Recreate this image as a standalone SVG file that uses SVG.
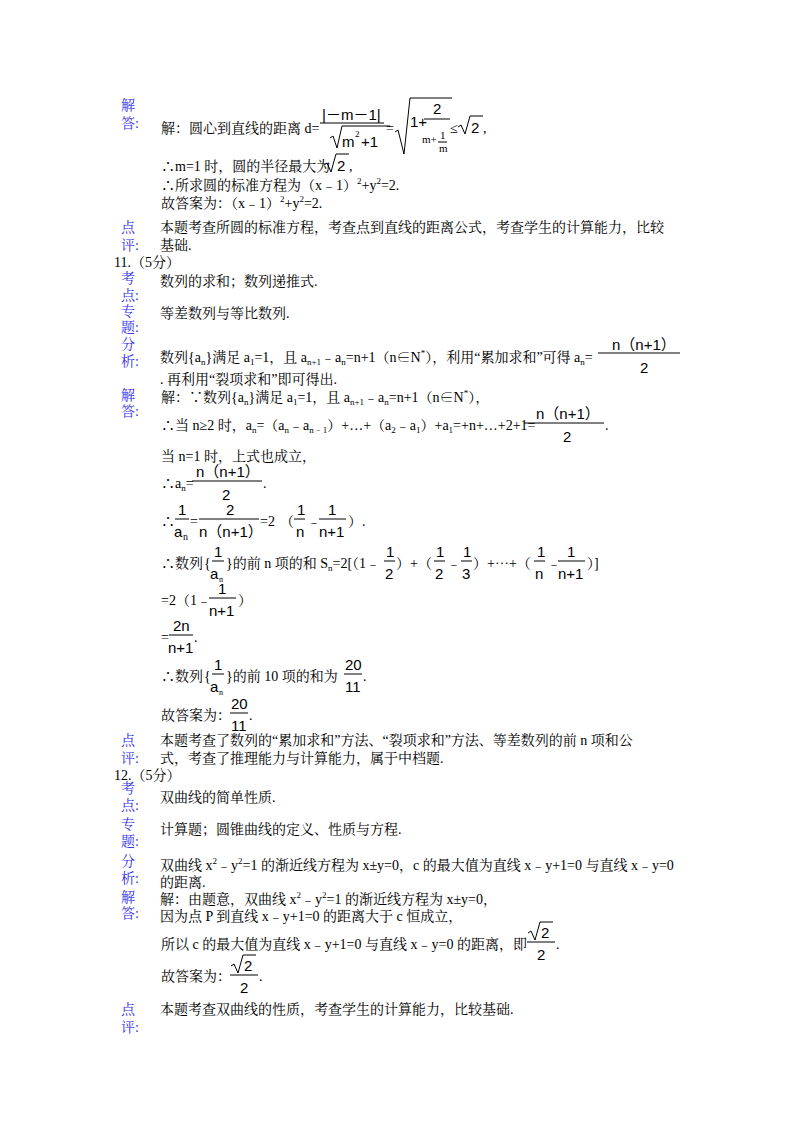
<svg xmlns="http://www.w3.org/2000/svg" width="800" height="1132" viewBox="0 0 800 1132">
<style>
text{font-family:"Liberation Serif","Noto Serif CJK SC","Noto Sans CJK SC",serif;font-size:14px;fill:#000}
.l{fill:#3333ee}
.s{font-size:9px}
.f{font-family:"Liberation Sans","Noto Sans CJK SC",sans-serif;font-size:15px}
line,path{stroke:#000;stroke-width:1;fill:none}
</style>
<rect width="800" height="1132" fill="#fff"/>
<g id="labels">
<text class="l" x="121" y="110">解</text><text class="l" x="121" y="128">答:</text>
<text class="l" x="121" y="232">点</text><text class="l" x="121" y="250">评:</text>
<text class="l" x="121" y="283">考</text><text class="l" x="121" y="300">点:</text>
<text class="l" x="121" y="316">专</text><text class="l" x="121" y="332">题:</text>
<text class="l" x="121" y="349">分</text><text class="l" x="121" y="366">析:</text>
<text class="l" x="121" y="400">解</text><text class="l" x="121" y="416">答:</text>
<text class="l" x="121" y="745">点</text><text class="l" x="121" y="763">评:</text>
<text class="l" x="121" y="793">考</text><text class="l" x="121" y="810">点:</text>
<text class="l" x="121" y="829">专</text><text class="l" x="121" y="846">题:</text>
<text class="l" x="121" y="866">分</text><text class="l" x="121" y="883">析:</text>
<text class="l" x="121" y="902">解</text><text class="l" x="121" y="918">答:</text>
<text class="l" x="121" y="1014">点</text><text class="l" x="121" y="1032">评:</text>
</g>
<g id="q10">
<text x="161" y="133">解：圆心到直线的距离 d=</text>
<text class="f" x="322" y="120">|－m－1|</text>
<line x1="320" y1="123" x2="384" y2="123"/>
<path d="M330,138 l3,-2 4,12 5,-22 h48"/>
<text class="f" x="342" y="147">m</text><text class="s" x="355" y="137">2</text><text class="f" x="361" y="147">+1</text>
<text x="386" y="133">=</text>
<path d="M395,132 l3,-2 6,24 6,-56 h42"/>
<text class="f" x="410" y="127">1+</text>
<text class="f" x="433" y="114">2</text>
<line x1="424" y1="119" x2="450" y2="119"/>
<text x="422" y="143" style="font-size:11px">m+</text><text x="440" y="139" style="font-size:11px">1</text>
<line x1="438" y1="142" x2="447" y2="142"/><text x="439" y="152" style="font-size:11px">m</text>
<text x="450" y="133">≤</text>
<path d="M458,127 l3,-2 4,9 5,-18 h13"/><text class="f" x="471" y="133">2</text><text x="483" y="133">,</text>
<text x="161" y="171">∴m=1 时，圆的半径最大为</text>
<path d="M324,165 l3,-2 4,9 5,-18 h13"/><text class="f" x="337" y="171">2</text><text x="349" y="171">,</text>
<text x="161" y="190">∴所求圆的标准方程为（x﹣1）<tspan class="s" dy="-6">2</tspan><tspan dy="6">+y</tspan><tspan class="s" dy="-6">2</tspan><tspan dy="6">=2.</tspan></text>
<text x="161" y="208">故答案为：（x﹣1）<tspan class="s" dy="-6">2</tspan><tspan dy="6">+y</tspan><tspan class="s" dy="-6">2</tspan><tspan dy="6">=2.</tspan></text>
<text x="160" y="232">本题考查所圆的标准方程，考查点到直线的距离公式，考查学生的计算能力，比较</text>
<text x="160" y="250">基础.</text>
</g>
<g id="q11">
<text x="114" y="267">11.（5分）</text>
<text x="160" y="286">数列的求和；数列递推式.</text>
<text x="160" y="318">等差数列与等比数列.</text>
<text x="160" y="362">数列{a<tspan class="s" dy="3">n</tspan><tspan dy="-3">}满足 a</tspan><tspan class="s" dy="3">1</tspan><tspan dy="-3">=1，且 a</tspan><tspan class="s" dy="3">n+1</tspan><tspan dy="-3">﹣a</tspan><tspan class="s" dy="3">n</tspan><tspan dy="-3">=n+1（n∈N</tspan><tspan class="s" dy="-6">*</tspan><tspan dy="6">），利用“累加求和”可得 a</tspan><tspan class="s" dy="3">n</tspan><tspan dy="-3">=</tspan></text>
<text class="f" x="612" y="350">n（n+1）</text><line x1="598" y1="353" x2="680" y2="353"/><text class="f" x="640" y="373">2</text>
<text x="160" y="384">. 再利用“裂项求和”即可得出.</text>
<text x="161" y="402">解：∵数列{a<tspan class="s" dy="3">n</tspan><tspan dy="-3">}满足 a</tspan><tspan class="s" dy="3">1</tspan><tspan dy="-3">=1，且 a</tspan><tspan class="s" dy="3">n+1</tspan><tspan dy="-3">﹣a</tspan><tspan class="s" dy="3">n</tspan><tspan dy="-3">=n+1（n∈N</tspan><tspan class="s" dy="-6">*</tspan><tspan dy="6">），</tspan></text>
<text x="161" y="430">∴当 n≥2 时，a<tspan class="s" dy="3">n</tspan><tspan dy="-3">=（a</tspan><tspan class="s" dy="3">n</tspan><tspan dy="-3">﹣a</tspan><tspan class="s" dy="3">n﹣1</tspan><tspan dy="-3">）+…+（a</tspan><tspan class="s" dy="3">2</tspan><tspan dy="-3">﹣a</tspan><tspan class="s" dy="3">1</tspan><tspan dy="-3">）+a</tspan><tspan class="s" dy="3">1</tspan><tspan dy="-3">=+n+…+2+1=</tspan></text>
<text class="f" x="536" y="419">n（n+1）</text><line x1="524" y1="423" x2="604" y2="423"/><text class="f" x="563" y="442">2</text><text x="605" y="430">.</text>
<text x="161" y="461">当 n=1 时，上式也成立，</text>
<text x="161" y="488">∴a<tspan class="s" dy="3">n</tspan><tspan dy="-3">=</tspan></text>
<text class="f" x="196" y="477">n（n+1）</text><line x1="192" y1="481" x2="262" y2="481"/><text class="f" x="222" y="500">2</text><text x="263" y="488">.</text>
<text x="161" y="526">∴</text>
<text class="f" x="178" y="515">1</text><line x1="175" y1="519" x2="189" y2="519"/><text class="f" x="174" y="537">a</text><text x="183" y="540" style="font-size:10px">n</text>
<text x="190" y="526">=</text>
<text class="f" x="226" y="515">2</text><line x1="199" y1="519" x2="259" y2="519"/><text class="f" x="199" y="537">n（n+1）</text>
<text x="260" y="526">=2</text>
<text x="280" y="526">（</text>
<text class="f" x="297" y="515">1</text><line x1="294" y1="519" x2="305" y2="519"/><text class="f" x="296" y="537">n</text>
<text x="307" y="526">﹣</text>
<text class="f" x="328" y="515">1</text><line x1="319" y1="519" x2="346" y2="519"/><text class="f" x="319" y="537">n+1</text>
<text x="348" y="526">）.</text>
<text x="161" y="568">∴数列</text><text x="204" y="568">{</text>
<text class="f" x="214" y="557">1</text><line x1="212" y1="561" x2="224" y2="561"/><text class="f" x="210" y="579">a</text><text x="219" y="582" style="font-size:8px">n</text>
<text x="226" y="568">}的前 n 项的和 S<tspan class="s" dy="3">n</tspan><tspan dy="-3">=2[（1﹣</tspan></text>
<text class="f" x="386" y="557">1</text><line x1="384" y1="561" x2="395" y2="561"/><text class="f" x="385" y="579">2</text>
<text x="396" y="568">）+（</text>
<text class="f" x="436" y="557">1</text><line x1="434" y1="561" x2="445" y2="561"/><text class="f" x="435" y="579">2</text>
<text x="447" y="568">﹣</text>
<text class="f" x="463" y="557">1</text><line x1="461" y1="561" x2="472" y2="561"/><text class="f" x="462" y="579">3</text>
<text x="473" y="568">）+⋯+（</text>
<text class="f" x="537" y="557">1</text><line x1="534" y1="561" x2="545" y2="561"/><text class="f" x="535" y="579">n</text>
<text x="547" y="568">﹣</text>
<text class="f" x="567" y="557">1</text><line x1="558" y1="561" x2="585" y2="561"/><text class="f" x="558" y="579">n+1</text>
<text x="587" y="568">）]</text>
<text x="161" y="605">=2（1﹣</text>
<text class="f" x="218" y="594">1</text><line x1="209" y1="598" x2="236" y2="598"/><text class="f" x="209" y="616">n+1</text>
<text x="238" y="605">）</text>
<text x="161" y="642">=</text>
<text class="f" x="173" y="631">2n</text><line x1="169" y1="635" x2="193" y2="635"/><text class="f" x="168" y="653">n+1</text><text x="194" y="642">.</text>
<text x="161" y="681">∴数列</text><text x="204" y="681">{</text>
<text class="f" x="214" y="670">1</text><line x1="212" y1="674" x2="224" y2="674"/><text class="f" x="210" y="692">a</text><text x="219" y="695" style="font-size:8px">n</text>
<text x="226" y="681">}的前 10 项的和为</text>
<text class="f" x="345" y="670">20</text><line x1="344" y1="674" x2="362" y2="674"/><text class="f" x="345" y="692">11</text><text x="363" y="681">.</text>
<text x="161" y="720">故答案为：</text>
<text class="f" x="231" y="709">20</text><line x1="230" y1="713" x2="248" y2="713"/><text class="f" x="231" y="731">11</text><text x="249" y="720">.</text>
<text x="160" y="745">本题考查了数列的“累加求和”方法、“裂项求和”方法、等差数列的前 n 项和公</text>
<text x="160" y="763">式，考查了推理能力与计算能力，属于中档题.</text>
</g>
<g id="q12">
<text x="114" y="780">12.（5分）</text>
<text x="160" y="802">双曲线的简单性质.</text>
<text x="160" y="834">计算题；圆锥曲线的定义、性质与方程.</text>
<text x="160" y="870">双曲线 x<tspan class="s" dy="-6">2</tspan><tspan dy="6">﹣y</tspan><tspan class="s" dy="-6">2</tspan><tspan dy="6">=1 的渐近线方程为 x±y=0，c 的最大值为直线 x﹣y+1=0 与直线 x﹣y=0</tspan></text>
<text x="160" y="887">的距离.</text>
<text x="160" y="904">解：由题意，双曲线 x<tspan class="s" dy="-6">2</tspan><tspan dy="6">﹣y</tspan><tspan class="s" dy="-6">2</tspan><tspan dy="6">=1 的渐近线方程为 x±y=0，</tspan></text>
<text x="160" y="921">因为点 P 到直线 x﹣y+1=0 的距离大于 c 恒成立，</text>
<text x="161" y="949">所以 c 的最大值为直线 x﹣y+1=0 与直线 x﹣y=0 的距离，即</text>
<path d="M528,933 l3,-2 4,9 5,-18 h13"/><text class="f" x="541" y="938">2</text>
<line x1="527" y1="942" x2="555" y2="942"/><text class="f" x="537" y="960">2</text><text x="556" y="949">.</text>
<text x="161" y="981">故答案为：</text>
<path d="M231,966 l3,-2 4,9 5,-18 h13"/><text class="f" x="244" y="971">2</text>
<line x1="230" y1="975" x2="258" y2="975"/><text class="f" x="240" y="993">2</text><text x="259" y="981">.</text>
<text x="160" y="1014">本题考查双曲线的性质，考查学生的计算能力，比较基础.</text>
</g>
</svg>
